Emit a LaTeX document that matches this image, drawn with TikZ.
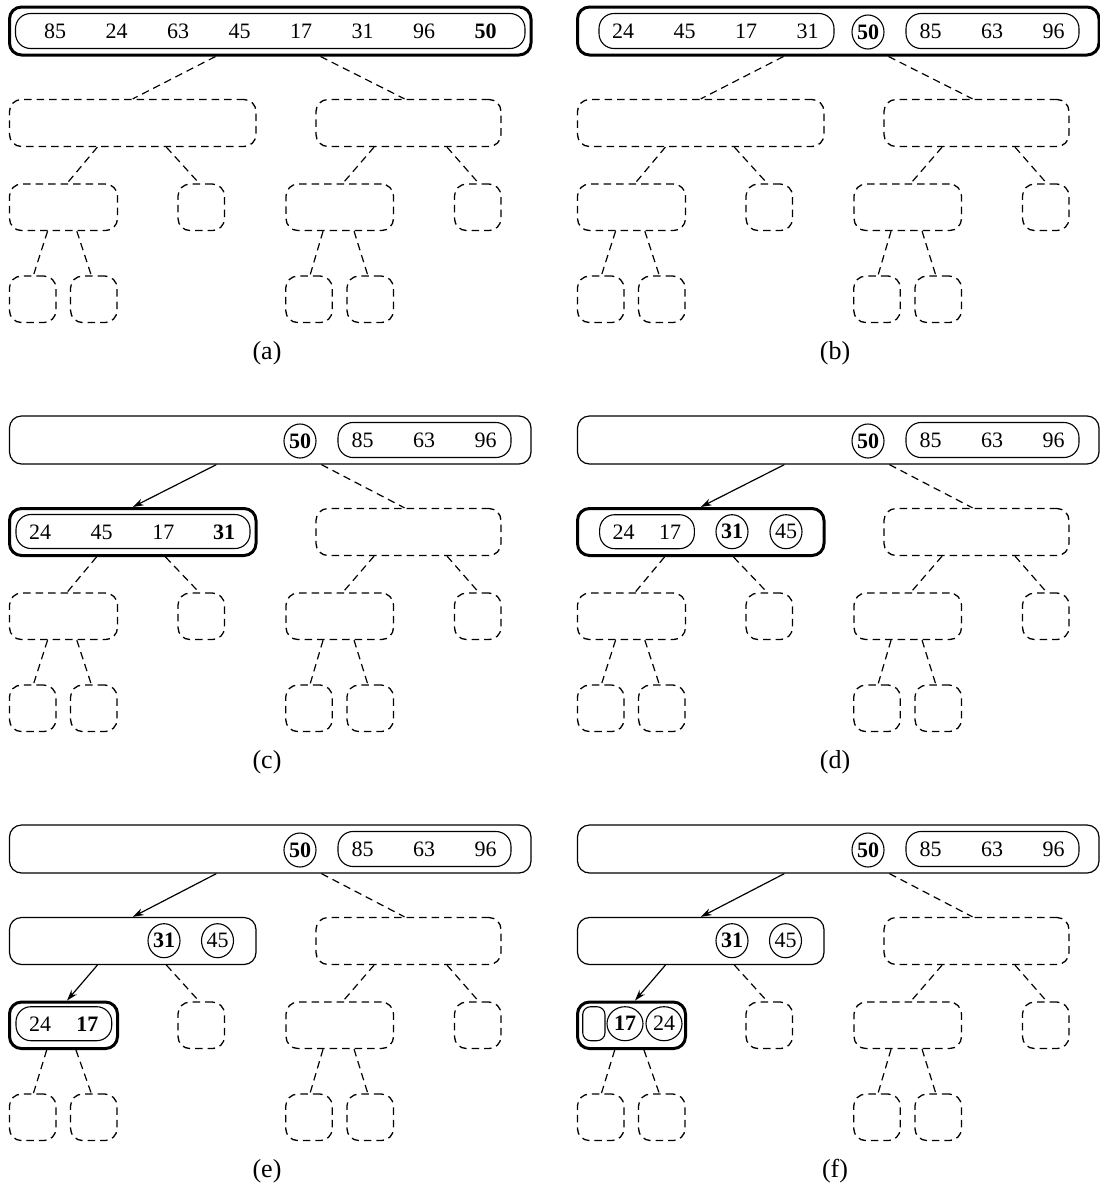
\documentclass[tikz,border=0pt]{standalone}
\usepackage{fontspec}
\setmainfont{Liberation Serif}
\usetikzlibrary{arrows.meta,shapes.geometric}
\newcommand\numfont{\fontsize{22}{22}\selectfont}
\newcommand\labfont{\fontsize{26}{26}\selectfont}
\tikzset{
 box/.style={draw, rounded corners=12pt, inner sep=0pt, line width=1.2pt},
 pbox/.style={box},
 tbox/.style={box, line width=3pt},
 dbox/.style={box, line width=1.3pt, dash pattern=on 7.5pt off 5pt},
 sq/.style={minimum width=46.5pt, minimum height=46.5pt},
 lst/.style={draw, rounded corners=15pt, line width=1.1pt, inner sep=0pt, minimum height=35pt},
 circ/.style={draw, ellipse, line width=1.1pt, inner sep=0pt, minimum width=32pt, minimum height=34pt, font=\numfont},
 num/.style={inner sep=0pt, font=\numfont},
 lab/.style={inner sep=0pt, font=\labfont},
 dline/.style={line width=1.2pt, dash pattern=on 7.5pt off 5pt},
 aline/.style={line width=1.2pt, -{Stealth[length=11pt, width=7pt]}},
}
% #1 prefix, #2 root style, #3 L1L style, #4 L2LL style, #5 root->L1L edge, #6 L1L->L2LL edge
\newcommand\drawpanel[6]{%
  \node[#2, minimum width=521.5pt, minimum height=48pt] (#1-root) at (270.25,31) {};
  \node[#3, minimum width=246.5pt, minimum height=47pt] (#1-L1L) at (132.75,123) {};
  \node[dbox, minimum width=185pt, minimum height=47pt] (#1-L1R) at (408.5,123) {};
  \node[#4, minimum width=108pt, minimum height=46.5pt] (#1-L2LL) at (63.5,207.3) {};
  \node[dbox, sq] (#1-L2LR) at (201.25,207.3) {};
  \node[dbox, minimum width=107.5pt, minimum height=46.5pt] (#1-L2RL) at (339.75,207.3) {};
  \node[dbox, sq] (#1-L2RR) at (477.75,207.3) {};
  \node[dbox, sq] (#1-L3a) at (32.7,299.3) {};
  \node[dbox, sq] (#1-L3b) at (93.8,299.3) {};
  \node[dbox, sq] (#1-L3c) at (309,299.3) {};
  \node[dbox, sq] (#1-L3d) at (370.2,299.3) {};
  \draw[#5] ([xshift=207.5pt]#1-root.south west) -- (#1-L1L.north);
  \draw[dline] ([xshift=312.5pt]#1-root.south west) -- ([xshift=-4pt]#1-L1R.north);
  \draw[#6] ([xshift=88.5pt]#1-L1L.south west) -- ([xshift=3.5pt]#1-L2LL.north);
  \draw[dline] ([xshift=157.5pt]#1-L1L.south west) -- ([xshift=-2pt]#1-L2LR.north);
  \draw[dline] ([xshift=58.7pt]#1-L1R.south west) -- ([xshift=3pt]#1-L2RL.north);
  \draw[dline] ([xshift=131.7pt]#1-L1R.south west) -- ([xshift=1pt]#1-L2RR.north);
  \draw[dline] ([xshift=38.7pt]#1-L2LL.south west) -- ([xshift=0.7pt]#1-L3a.north);
  \draw[dline] ([xshift=68pt]#1-L2LL.south west) -- ([xshift=-2.5pt]#1-L3b.north);
  \draw[dline] ([xshift=37.7pt]#1-L2RL.south west) -- ([xshift=1pt]#1-L3c.north);
  \draw[dline] ([xshift=68.7pt]#1-L2RL.south west) -- ([xshift=-2.4pt]#1-L3d.north);
  \node[lab] (#1-label) at (267,353) {(#1)};
}
\newcommand\rootrest[1]{%
  \node[circ] (#1-c50) at (300,32) {\bfseries 50};
  \node[lst, minimum width=173pt] (#1-rl) at (424.5,31) {};
  \node[num] (#1-r85) at (362.5,31.5) {85};
  \node[num] (#1-r63) at (424,31.5) {63};
  \node[num] (#1-r96) at (485.5,31.5) {96};
}
\begin{document}
\begin{tikzpicture}[x=1pt,y=-1pt]
\useasboundingbox (0,0) rectangle (1100,1184);
% (a)
\begin{scope}
  \drawpanel{a}{tbox}{dbox}{dbox}{dline}{dline}
  \node[lst, minimum width=509.5pt] (a-list) at (270.25,31) {};
  \foreach \v/\x [count=\i] in {85/55,24/116.5,63/178,45/239.5,17/301,31/362.5,96/424}
    \node[num] (a-n\i) at (\x,31.5) {\v};
  \node[num] (a-n8) at (485.5,31.5) {\bfseries 50};
\end{scope}
% (b)
\begin{scope}[shift={(568,0)}]
  \drawpanel{b}{tbox}{dbox}{dbox}{dline}{dline}
  \node[lst, minimum width=235pt] (b-ll) at (148.5,31) {};
  \foreach \v/\x [count=\i] in {24/55,45/116.5,17/178,31/239.5}
    \node[num] (b-n\i) at (\x,31.5) {\v};
  \rootrest{b}
\end{scope}
% (c)
\begin{scope}[shift={(0,409)}]
  \drawpanel{c}{pbox}{tbox}{dbox}{aline}{dline}
  \rootrest{c}
  \node[lst, minimum width=234pt, minimum height=34pt] (c-ll) at (133,122.5) {};
  \foreach \v/\x [count=\i] in {24/40,45/101.7,17/163.3}
    \node[num] (c-n\i) at (\x,123) {\v};
  \node[num] (c-n4) at (224,123) {\bfseries 31};
\end{scope}
% (d)
\begin{scope}[shift={(568,409)}]
  \drawpanel{d}{pbox}{tbox}{dbox}{aline}{dline}
  \rootrest{d}
  \node[lst, minimum width=94.7pt, minimum height=34pt] (d-ll) at (79,122.7) {};
  \node[num] (d-n1) at (55.7,123) {24};
  \node[num] (d-n2) at (102.2,123) {17};
  \node[circ] (d-c31) at (164,122.7) {\bfseries 31};
  \node[circ] (d-c45) at (218,122.7) {45};
\end{scope}
% (e)
\begin{scope}[shift={(0,818)}]
  \drawpanel{e}{pbox}{pbox}{tbox}{aline}{aline}
  \rootrest{e}
  \node[circ] (e-c31) at (164,122.7) {\bfseries 31};
  \node[circ] (e-c45) at (217.5,122.7) {45};
  \node[lst, minimum width=95.7pt, minimum height=34pt] (e-ll) at (63.85,205.7) {};
  \node[num] (e-n1) at (40,206) {24};
  \node[num] (e-n2) at (87.3,206) {\bfseries 17};
\end{scope}
% (f)
\begin{scope}[shift={(568,818)}]
  \drawpanel{f}{pbox}{pbox}{tbox}{aline}{aline}
  \rootrest{f}
  \node[circ] (f-c31) at (164,122.7) {\bfseries 31};
  \node[circ] (f-c45) at (217.5,122.7) {45};
  \node[draw, rounded corners=8pt, line width=1.1pt, inner sep=0pt, minimum width=22.3pt, minimum height=34pt] (f-empty) at (25.85,205.7) {};
  \node[circ, minimum width=36pt] (f-c17) at (57,205.7) {\bfseries 17};
  \node[circ, minimum width=36pt] (f-c24) at (96,205.7) {24};
\end{scope}
\end{tikzpicture}
\end{document}
